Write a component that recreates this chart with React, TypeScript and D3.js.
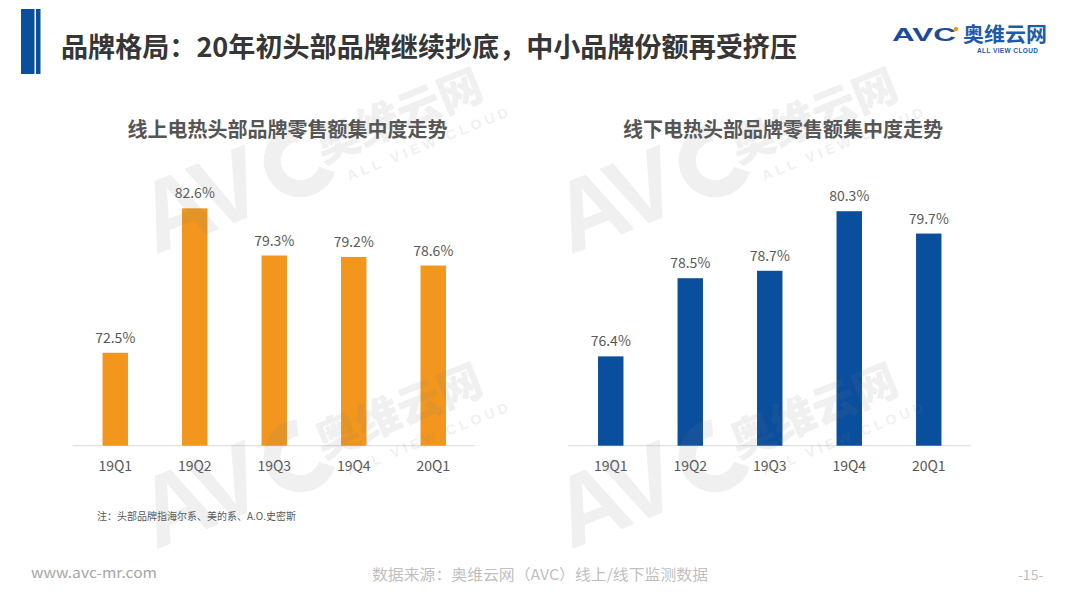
import React from 'react';
import * as d3 from 'd3';

const categories = ['19Q1', '19Q2', '19Q3', '19Q4', '20Q1'];
const onlineValues = [72.5, 82.6, 79.3, 79.2, 78.6];
const offlineValues = [76.4, 78.5, 78.7, 80.3, 79.7];

const pageTitle = '品牌格局：20年初头部品牌继续抄底，中小品牌份额再受挤压';
const onlineTitle = '线上电热头部品牌零售额集中度走势';
const offlineTitle = '线下电热头部品牌零售额集中度走势';
const footNote = '注：头部品牌指海尔系、美的系、A.O.史密斯';
const sourceNote = '数据来源：奥维云网（AVC）线上/线下监测数据';

const FONT = '"Noto Sans CJK SC", "Noto Sans", sans-serif';
const ORANGE = '#F2961E';
const BLUE = '#0A4E9E';
const BASE_Y = 445.7;

type PanelProps = {
  values: number[];
  color: string;
  title: string;
  titleX: number;
  x0: number;
  x1: number;
  yMin: number;
  yMax: number;
};

function Panel({ values, color, title, titleX, x0, x1, yMin, yMax }: PanelProps) {
  const x = d3.scaleBand<string>().domain(categories).range([x0, x1]).paddingInner(0.68).paddingOuter(0.34);
  const y = d3.scaleLinear().domain([yMin, yMax]).range([BASE_Y, 174]);
  return (
    <g>
      <text x={titleX} y={137} textAnchor="middle" fontFamily={FONT} fontWeight={700} fontSize={20} fill="#555555">
        {title}
      </text>
      <line x1={x0 - 3} x2={x1 + 2} y1={BASE_Y} y2={BASE_Y} stroke="#d9d9d9" strokeWidth={1} />
      {values.map((v, i) => {
        const c = categories[i];
        const bx = x(c) as number;
        return (
          <g key={c}>
            <rect x={bx} y={y(v)} width={x.bandwidth()} height={BASE_Y - y(v)} fill={color} />
            <text x={bx + x.bandwidth() / 2} y={y(v) - 10} textAnchor="middle" fontFamily={FONT} fontSize={14} fill="#595959">
              {d3.format('.1f')(v)}%
            </text>
            <text x={bx + x.bandwidth() / 2} y={470.7} textAnchor="middle" fontFamily={FONT} fontSize={14} fill="#595959">
              {c}
            </text>
          </g>
        );
      })}
    </g>
  );
}

function Watermark({ x, y }: { x: number; y: number }) {
  return (
    <g transform={`translate(${x},${y}) rotate(-22)`} fill="#7f7f7f" opacity={0.11}>
      <text x={0} y={0} fontFamily='"Liberation Sans", Arial, sans-serif' fontWeight={700} fontSize={100} letterSpacing={-6}>
        AV
      </text>
      <circle cx={170} cy={-33} r={28} fill="none" stroke="#7f7f7f" strokeWidth={17} strokeDasharray="120 56" transform="rotate(40 170 -33)" />
      <text x={190} y={-22} fontFamily={FONT} fontWeight={900} fontSize={44}>
        奥维云网
      </text>
      <text x={208} y={4} fontFamily='"Liberation Sans", Arial, sans-serif' fontWeight={700} fontSize={14} letterSpacing={4}>
        ALL VIEW CLOUD
      </text>
    </g>
  );
}

export default function App() {
  return (
    <svg
      width={1080}
      height={608}
      viewBox="0 0 1080 608"
      style={{ position: 'fixed', left: 0, top: 0, background: '#fff' }}
    >
      <rect x={0} y={0} width={1080} height={608} fill="#fff" />

      {/* header */}
      <rect x={21} y={9} width={13.5} height={65} fill={BLUE} />
      <rect x={36} y={9} width={4.5} height={65} fill={BLUE} />
      <text x={61} y={57} fontFamily={FONT} fontWeight={700} fontSize={27} fill="#363636" textLength={736} lengthAdjust="spacingAndGlyphs">
        {pageTitle}
      </text>

      {/* logo */}
      <text x={892} y={41} fontFamily='"Liberation Sans", Arial, sans-serif' fontWeight={700} fontSize={18} fill="#1C4B9C" textLength={64} lengthAdjust="spacingAndGlyphs">
        AVC
      </text>
      <circle cx={956} cy={29} r={2.2} fill={ORANGE} />
      <text x={963} y={42} fontFamily={FONT} fontWeight={700} fontSize={20} fill="#1E5BAA" textLength={84} lengthAdjust="spacingAndGlyphs">
        奥维云网
      </text>
      <text x={977} y={53} fontFamily='"Liberation Sans", Arial, sans-serif' fontWeight={700} fontSize={6.5} fill="#1E5BAA" textLength={61} lengthAdjust="spacing">
        ALL VIEW CLOUD
      </text>

      <Panel values={onlineValues} color={ORANGE} title={onlineTitle} titleX={287.5} x0={75.5} x1={473} yMin={66} yMax={85} />
      <Panel values={offlineValues} color={BLUE} title={offlineTitle} titleX={783} x0={571} x1={968.5} yMin={74} yMax={81.3} />

      {/* footnotes */}
      <text x={97} y={520} fontFamily={FONT} fontSize={10} fill="#595959">
        {footNote}
      </text>
      <text x={31} y={578} fontFamily={FONT} fontSize={14} fill="#a6a6a6" textLength={126} lengthAdjust="spacingAndGlyphs">
        www.avc-mr.com
      </text>
      <text x={372} y={580} fontFamily={FONT} fontSize={15} fill="#bfbfbf" textLength={336} lengthAdjust="spacingAndGlyphs">
        {sourceNote}
      </text>
      <text x={1018} y={580} fontFamily={FONT} fontSize={14} fill="#bfbfbf">
        -15-
      </text>

      {/* watermarks */}
      <Watermark x={155} y={255} />
      <Watermark x={570} y={255} />
      <Watermark x={155} y={550} />
      <Watermark x={570} y={550} />
    </svg>
  );
}
